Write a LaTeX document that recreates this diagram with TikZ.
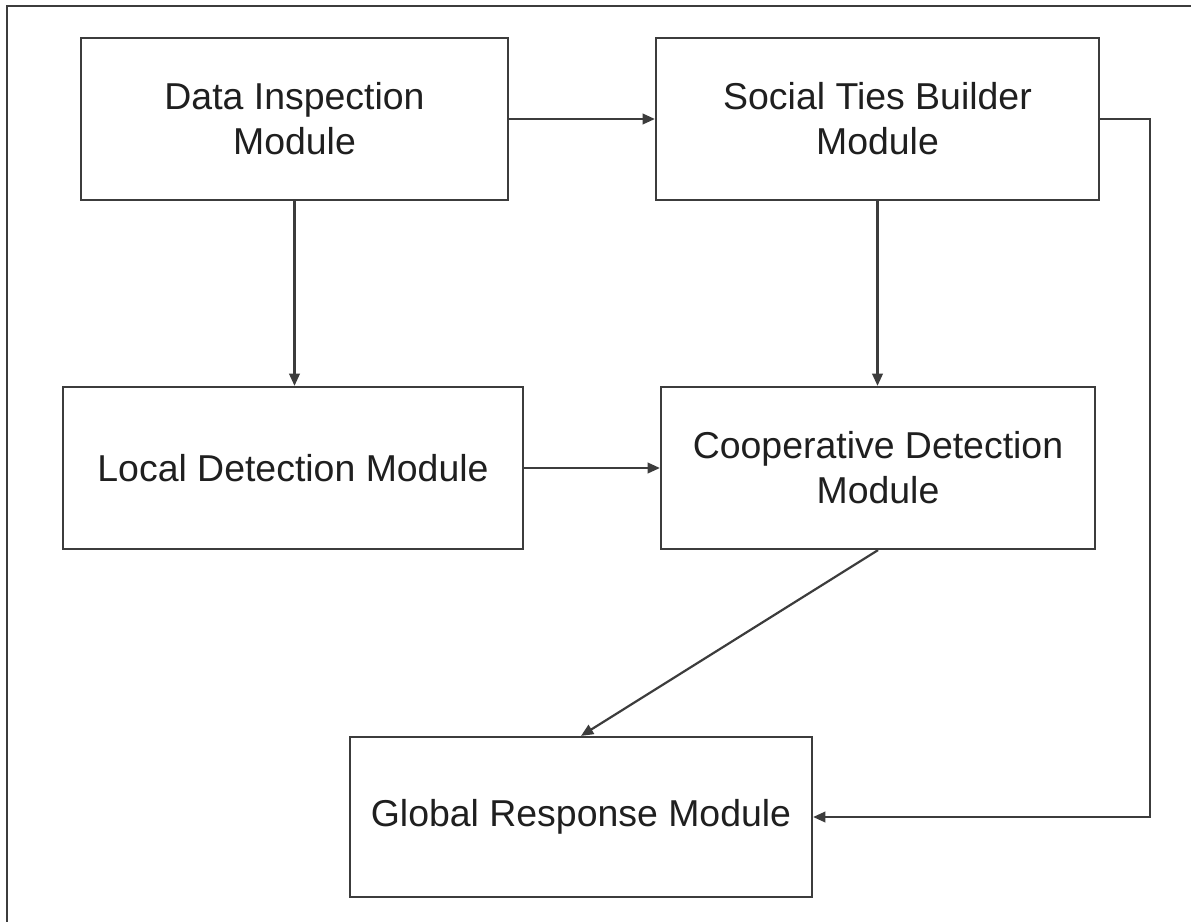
\documentclass[tikz,border=0pt]{standalone}
\usepackage{fontspec}
\setmainfont{Liberation Sans}
\usepackage{tikz}
\usetikzlibrary{positioning, arrows.meta}

\definecolor{linegray}{HTML}{3C3C3C}

\tikzset{
    module/.style={draw=linegray, line width=1.25pt, fill=white, align=center,
        minimum height=3.24cm, inner sep=0pt,
        font=\fontsize{21.3}{25.5}\selectfont, text=black!88},
    link/.style={draw=linegray, line width=1.25pt,
        -{Triangle[length=7pt, width=6pt]}}
}

\begin{document}
\begin{tikzpicture}

    \useasboundingbox (0,0) rectangle (23.82,-18.42);

    % cornice
    \draw[linegray, line width=1.3pt] (0.14,-18.6) -- (0.14,-0.12) -- (24,-0.12);

    % moduli
    \node[module, minimum width=8.54cm] (data) at (5.89,-2.38) {Data Inspection\\Module};
    \node[module, minimum width=8.86cm] (social) at (17.55,-2.38) {Social Ties Builder\\Module};
    \node[module, minimum width=9.20cm] (local) at (5.86,-9.36) {Local Detection Module};
    \node[module, minimum width=8.68cm] (coop) at (17.56,-9.36) {Cooperative Detection\\Module};
    \node[module, minimum width=9.24cm, minimum height=3.2cm] (global) at (11.62,-16.34) {Global Response Module};

    % frecce
    \draw[link] (data.east) -- (social.west);
    \draw[link] (data.south) -- (data.south |- local.north);
    \draw[link] (social.south) -- (social.south |- coop.north);
    \draw[link] (local.east) -- (coop.west);
    \draw[link] (coop.south) -- (global.north);
    \draw[link] (social.east) -- ++(1.0,0) |- (global.east);

\end{tikzpicture}
\end{document}
